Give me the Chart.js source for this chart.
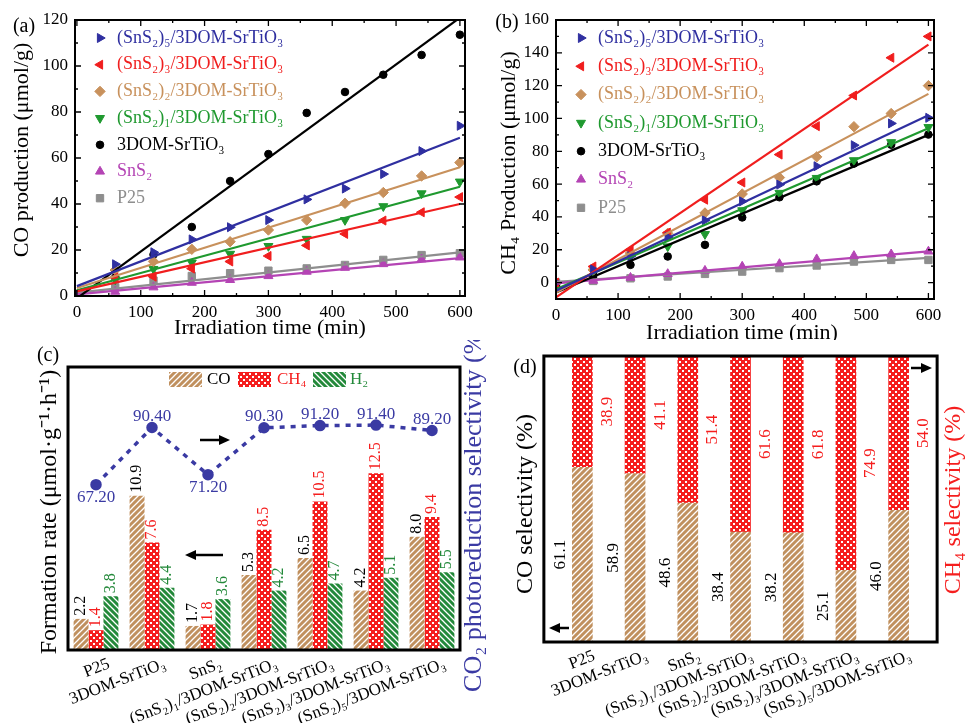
<!DOCTYPE html>
<html>
<head>
<meta charset="utf-8">
<script src="https://cdn.jsdelivr.net/npm/chart.js@4.4.1/dist/chart.umd.min.js"></script>
<style>
  body { margin: 0; background: #fff; width: 968px; height: 723px; position: relative; overflow: hidden; }
  canvas { position: absolute; }
</style>
</head>
<body>
<canvas id="ca" style="left:0;top:0" width="484" height="340"></canvas>
<canvas id="cb" style="left:484px;top:0" width="484" height="340"></canvas>
<canvas id="cc" style="left:0;top:340px" width="495" height="383"></canvas>
<canvas id="cd" style="left:484px;top:340px" width="484" height="383"></canvas>
<script>
// ---- data ----
const times = [0, 60, 120, 180, 240, 300, 360, 420, 480, 540, 600];
const timeTicks = [0, 100, 200, 300, 400, 500, 600];
const coTicks = [0, 20, 40, 60, 80, 100, 120];
const ch4Ticks = [0, 20, 40, 60, 80, 100, 120, 140, 160];
const sampleNames = ['(SnS₂)₅/3DOM-SrTiO₃', '(SnS₂)₃/3DOM-SrTiO₃', '(SnS₂)₂/3DOM-SrTiO₃', '(SnS₂)₁/3DOM-SrTiO₃', '3DOM-SrTiO₃', 'SnS₂', 'P25'];

// (a) CO production, µmol/g
const coS5 = [1, 13.8, 19, 24.6, 29.9, 33, 42, 46.7, 53, 63, 74];
const coS3 = [0, 8, 8.4, 11.9, 15, 17.4, 22, 27, 32.8, 36.4, 43];
const coS2 = [0.5, 11.3, 15, 20.3, 23.6, 28.7, 33, 40.3, 45, 52.2, 58];
const coS1 = [0, 7.2, 11.7, 14.5, 18.3, 21.7, 24.8, 33, 39, 44.6, 49.7];
const coDOM = [0, 8, 18, 30, 50, 61.7, 79.6, 88.7, 96.2, 104.8, 113.6];
const coSnS2 = [0, 1.9, 3.8, 5.8, 7, 8.7, 10.6, 12.3, 13.9, 16, 16.8];
const coP25 = [0, 3.8, 6.7, 8.7, 9.9, 11, 12, 13.5, 15.7, 17.8, 18.6];
// fitted lines: value at 0 min and at 600 min
const coFit0 = [4.3, 2, 3.5, 2.5, -1, 0.7, 1.5];
const coFit600 = [68.8, 40, 56, 47.5, 121, 16.5, 19];

// (b) CH4 production, µmol/g
const chS5 = [0, 8, 16, 27.7, 38, 49.5, 59.7, 70.9, 83.7, 97, 100.4];
const chS3 = [0, 9.8, 20, 30.5, 50.5, 61, 78, 95.3, 114, 137, 150];
const chS2 = [0, 7.7, 18, 30, 42.4, 54, 64, 76.6, 95, 103, 120];
const chS1 = [-1, 6.7, 16, 22, 29.5, 44, 54.6, 63.7, 74.5, 85.5, 94.7];
const chDOM = [-1, 4.3, 10.8, 15.9, 23, 39.7, 52, 61.7, 72.5, 84, 90.2];
const chSnS2 = [-1, 1.2, 3, 5.3, 7.3, 9.8, 11.4, 14.3, 16.3, 17.3, 19];
const chP25 = [0, 1, 2.6, 3.7, 5.3, 6.7, 8.8, 10.4, 12.8, 13.8, 13.8];
const chFit0 = [-5, -9, -6, -4, -6, -0.5, 0.5];
const chFit600 = [102, 145, 115, 94, 90, 19, 15];

// (c) formation rates and CO2 photoreduction selectivity
const catNames = ['P25', '3DOM-SrTiO₃', 'SnS₂', '(SnS₂)₁/3DOM-SrTiO₃', '(SnS₂)₂/3DOM-SrTiO₃', '(SnS₂)₃/3DOM-SrTiO₃', '(SnS₂)₅/3DOM-SrTiO₃'];
const rateCO = [2.2, 10.9, 1.7, 5.3, 6.5, 4.2, 8.0];
const rateCH4 = [1.4, 7.6, 1.8, 8.5, 10.5, 12.5, 9.4];
const rateH2 = [3.8, 4.4, 3.6, 4.2, 4.7, 5.1, 5.5];
const co2Sel = [67.2, 90.4, 71.2, 90.3, 91.2, 91.4, 89.2];

// (d) CO / CH4 selectivity, %
const selCO = [61.1, 58.9, 48.6, 38.4, 38.2, 25.1, 46.0];
const selCH4 = [38.9, 41.1, 51.4, 61.6, 61.8, 74.9, 54.0];

// ---- styles ----
const FONT = '"Liberation Serif", "Times New Roman", serif';
Chart.defaults.font.family = FONT;
Chart.defaults.color = '#000';

const seriesColors = ['#2f2fa0', '#f01e1e', '#c8915c', '#1f992f', '#000000', '#b444b4', '#8e8e8e'];
const seriesStyles = [['triangle', 90], ['triangle', -90], ['rectRot', 0], ['triangle', 180], ['circle', 0], ['triangle', 0], ['rect', 0]];
const TAN = '#c0905e', RED = '#f51e1e', GREEN = '#23893a', BLUE = '#3a3aa3';

function stripes(bg, slash) {
  const c = document.createElement('canvas');
  c.width = c.height = 6;
  const g = c.getContext('2d');
  g.fillStyle = bg;
  g.fillRect(0, 0, 6, 6);
  g.strokeStyle = '#fff';
  g.lineWidth = 1.3;
  g.beginPath();
  if (slash) {
    g.moveTo(-1, 7); g.lineTo(7, -1);
    g.moveTo(-1, 1); g.lineTo(1, -1);
    g.moveTo(5, 7); g.lineTo(7, 5);
  } else {
    g.moveTo(-1, -1); g.lineTo(7, 7);
    g.moveTo(5, -1); g.lineTo(7, 1);
    g.moveTo(-1, 5); g.lineTo(1, 7);
  }
  g.stroke();
  return g.createPattern(c, 'repeat');
}
function dots(bg) {
  const c = document.createElement('canvas');
  c.width = c.height = 6;
  const g = c.getContext('2d');
  g.fillStyle = bg;
  g.fillRect(0, 0, 6, 6);
  g.fillStyle = '#fff';
  g.fillRect(0, 0, 2, 2);
  g.fillRect(3, 3, 2, 2);
  return g.createPattern(c, 'repeat');
}
const patCO = stripes(TAN, true);
const patCH4 = dots(RED);
const patH2 = stripes(GREEN, false);

// ---- small plugins ----
function textsPlugin(items) {
  return {
    id: 'texts',
    afterDraw(chart) {
      const ctx = chart.ctx;
      items.forEach(it => {
        ctx.save();
        ctx.translate(it.x, it.y);
        if (it.rot) ctx.rotate(it.rot * Math.PI / 180);
        ctx.font = (it.size || 20) + 'px ' + FONT;
        ctx.fillStyle = it.color || '#000';
        ctx.textAlign = it.align || 'center';
        ctx.textBaseline = 'middle';
        ctx.fillText(it.t, 0, 0);
        ctx.restore();
      });
    }
  };
}

// box round the plot. For the category panels, catPad gives how far (in
// categories) the box reaches past the first and last bar centre.
function framePlugin(width, withTicks, catPad) {
  return {
    id: 'frame',
    afterDraw(chart) {
      const { ctx, chartArea: a } = chart;
      let left = a.left, right = a.right;
      if (catPad) {
        const s = chart.scales.x;
        const n = chart.data.labels.length;
        const p0 = s.getPixelForTick(0), p1 = s.getPixelForTick(n - 1);
        const step = (p1 - p0) / (n - 1);
        left = p0 - catPad * step;
        right = p1 + catPad * step;
      }
      ctx.save();
      ctx.strokeStyle = '#000';
      ctx.lineWidth = width;
      ctx.strokeRect(left, a.top, right - left, a.bottom - a.top);
      if (withTicks) {
        ctx.lineWidth = 1.3;
        ctx.beginPath();
        ['x', 'y'].forEach(id => {
          const s = chart.scales[id];
          const vals = s.ticks.map(t => t.value);
          const step = vals[1] - vals[0];
          const marks = [];
          vals.forEach(v => {
            marks.push([v, 6]);
            if (v + step / 2 < s.max) marks.push([v + step / 2, 3]);
          });
          marks.forEach(([v, len]) => {
            const p = s.getPixelForValue(v);
            if (id === 'x') {
              ctx.moveTo(p, a.bottom); ctx.lineTo(p, a.bottom - len);
              ctx.moveTo(p, a.top); ctx.lineTo(p, a.top + len);
            } else {
              ctx.moveTo(a.left, p); ctx.lineTo(a.left + len, p);
              ctx.moveTo(a.right, p); ctx.lineTo(a.right - len, p);
            }
          });
        });
        ctx.stroke();
      }
      ctx.restore();
    }
  };
}

function arrowsPlugin(list) {
  return {
    id: 'arrows',
    afterDraw(chart) {
      const ctx = chart.ctx;
      ctx.save();
      ctx.strokeStyle = '#000';
      ctx.fillStyle = '#000';
      ctx.lineWidth = 2.5;
      list.forEach(([x1, y, x2]) => {
        const d = x2 > x1 ? 1 : -1;
        ctx.beginPath();
        ctx.moveTo(x1, y); ctx.lineTo(x2 - d * 8, y);
        ctx.stroke();
        ctx.beginPath();
        ctx.moveTo(x2, y); ctx.lineTo(x2 - d * 11, y - 5); ctx.lineTo(x2 - d * 11, y + 5);
        ctx.closePath();
        ctx.fill();
      });
      ctx.restore();
    }
  };
}

function insideLegend(x, y, dy, textX, size) {
  return {
    id: 'insideLegend',
    afterDraw(chart) {
      const ctx = chart.ctx;
      ctx.save();
      ctx.font = size + 'px ' + FONT;
      ctx.textBaseline = 'middle';
      let row = 0;
      chart.data.datasets.forEach(ds => {
        if (!ds.label) return;
        const yy = y + row * dy;
        ctx.fillStyle = ds.backgroundColor;
        ctx.strokeStyle = ds.backgroundColor;
        Chart.helpers.drawPoint(ctx, { pointStyle: ds.pointStyle, rotation: ds.pointRotation, radius: ds.pointRadius, borderWidth: 1 }, x, yy);
        ctx.fillText(ds.label, textX, yy);
        row++;
      });
      ctx.restore();
    }
  };
}

function growthSets(series, fit0, fit600) {
  const fits = series.map((vals, k) => ({
    data: [{ x: times[0], y: fit0[k] }, { x: times[times.length - 1], y: fit600[k] }],
    borderColor: seriesColors[k], borderWidth: 2.2, pointRadius: 0, showLine: true
  }));
  const pts = series.map((vals, k) => ({
    label: sampleNames[k],
    data: times.map((t, i) => ({ x: t, y: vals[i] })),
    backgroundColor: seriesColors[k], borderColor: seriesColors[k],
    pointStyle: seriesStyles[k][0], pointRotation: seriesStyles[k][1],
    pointRadius: seriesStyles[k][0] === 'circle' ? 3.8 : 5.2, pointBorderWidth: 1, showLine: false
  }));
  return fits.concat(pts);
}

function growthChart(id, sets, cfg) {
  return new Chart(document.getElementById(id), {
    type: 'scatter',
    data: { datasets: sets },
    options: {
      responsive: false, animation: false,
      layout: { padding: { left: 0, top: 20, right: cfg.padRight, bottom: 0 } },
      plugins: { legend: { display: false }, tooltip: { enabled: false } },
      scales: {
        x: {
          min: cfg.xMin, max: cfg.xMax,
          grid: { display: false, drawTicks: false }, border: { display: false },
          ticks: { font: { size: 17 }, padding: 6, color: '#000' },
          afterBuildTicks: s => { s.ticks = timeTicks.map(v => ({ value: v })); },
          afterFit: s => { s.height = cfg.xHeight; }
        },
        y: {
          min: cfg.yMin, max: cfg.yMax,
          grid: { display: false, drawTicks: false }, border: { display: false },
          ticks: { font: { size: 17 }, padding: 7, color: '#000' },
          afterBuildTicks: s => { s.ticks = cfg.yTicks.map(v => ({ value: v })); },
          afterFit: s => { s.width = cfg.yWidth; }
        }
      }
    },
    plugins: [framePlugin(2, true), insideLegend(cfg.legX, 38, cfg.legDy, cfg.legTextX, cfg.legSize), textsPlugin(cfg.texts)]
  });
}

// (a)
growthChart('ca', growthSets([coS5, coS3, coS2, coS1, coDOM, coSnS2, coP25], coFit0, coFit600), {
  xMin: -3, xMax: 608, yMin: 0, yMax: 120, yTicks: coTicks,
  padRight: 19, xHeight: 44, yWidth: 75,
  legX: 100, legDy: 26.7, legTextX: 117, legSize: 18,
  texts: [
    { t: '(a)', x: 24, y: 27, size: 20 },
    { t: 'CO production (μmol/g)', x: 22, y: 150, rot: -90, size: 22 },
    { t: 'Irradiation time (min)', x: 270, y: 328, size: 22 }
  ]
});

// (b)
growthChart('cb', growthSets([chS5, chS3, chS2, chS1, chDOM, chSnS2, chP25], chFit0, chFit600), {
  xMin: 0, xMax: 609, yMin: -10, yMax: 160, yTicks: ch4Ticks,
  padRight: 34, xHeight: 41, yWidth: 72,
  legX: 97, legDy: 28.3, legTextX: 114, legSize: 18,
  texts: [
    { t: '(b)', x: 23, y: 23, size: 20 },
    { t: 'CH₄ Production (μmol/g)', x: 25, y: 163, rot: -90, size: 22 },
    { t: 'Irradiation time (min)', x: 258, y: 333, size: 22 }
  ]
});

// (c)
const rateColors = ['#000', RED, GREEN];
const selBelow = [true, false, true, false, false, false, false];
const rateLabels = {
  id: 'rateLabels',
  afterDatasetsDraw(chart) {
    const ctx = chart.ctx;
    ctx.save();
    ctx.font = '16px ' + FONT;
    ctx.textBaseline = 'middle';
    for (let i = 0; i < 3; i++) {
      const vals = chart.data.datasets[i].data;
      chart.getDatasetMeta(i).data.forEach((bar, j) => {
        ctx.save();
        ctx.translate(bar.x, bar.y - 3);
        ctx.rotate(-Math.PI / 2);
        ctx.textAlign = 'left';
        ctx.fillStyle = rateColors[i];
        ctx.fillText(vals[j].toFixed(1), 0, 0);
        ctx.restore();
      });
    }
    ctx.font = '17px ' + FONT;
    ctx.textAlign = 'center';
    ctx.fillStyle = BLUE;
    const sel = chart.data.datasets[3].data;
    chart.getDatasetMeta(3).data.forEach((pt, j) => {
      ctx.fillText(sel[j].toFixed(2), pt.x, pt.y + (selBelow[j] ? 13 : -11));
    });
    ctx.restore();
  }
};
const legendC = {
  id: 'legendC',
  afterDraw(chart) {
    const ctx = chart.ctx;
    const items = [[patCO, 'CO', '#000', 169, 207], [patCH4, 'CH₄', RED, 238, 277], [patH2, 'H₂', GREEN, 313, 350]];
    ctx.save();
    ctx.font = '17px ' + FONT;
    ctx.textBaseline = 'middle';
    items.forEach(([pat, txt, col, bx, tx]) => {
      ctx.fillStyle = pat;
      ctx.fillRect(bx, 32, 33, 15);
      ctx.fillStyle = col;
      ctx.fillText(txt, tx, 40);
    });
    ctx.restore();
  }
};

new Chart(document.getElementById('cc'), {
  type: 'bar',
  data: {
    labels: catNames,
    datasets: [
      { label: 'CO', data: rateCO, backgroundColor: patCO, borderWidth: 0, yAxisID: 'y', order: 2 },
      { label: 'CH₄', data: rateCH4, backgroundColor: patCH4, borderWidth: 0, yAxisID: 'y', order: 2 },
      { label: 'H₂', data: rateH2, backgroundColor: patH2, borderWidth: 0, yAxisID: 'y', order: 2 },
      {
        type: 'line', label: 'CO₂ selectivity', data: co2Sel, yAxisID: 'y1', order: 1,
        borderColor: BLUE, borderWidth: 3.5, borderDash: [5, 6], fill: false,
        pointRadius: 4, pointBackgroundColor: BLUE, pointBorderColor: BLUE
      }
    ]
  },
  options: {
    responsive: false, animation: false,
    layout: { padding: { left: 68, top: 27, right: 35, bottom: 0 } },
    datasets: { bar: { categoryPercentage: 0.8, barPercentage: 1 } },
    plugins: { legend: { display: false }, tooltip: { enabled: false } },
    scales: {
      x: {
        grid: { display: false, drawTicks: false }, border: { display: false },
        ticks: { font: { size: 17 }, color: '#000', minRotation: 21, maxRotation: 21, labelOffset: 13, padding: 4, autoSkip: false },
        afterFit: s => { s.height = 73; }
      },
      y: { display: false, min: 0, max: 20 },
      y1: { display: false, position: 'right', min: 0, max: 115 }
    }
  },
  plugins: [framePlugin(3, false, 0.5), rateLabels, legendC,
    arrowsPlugin([[200, 100, 230], [223, 215, 185]]),
    textsPlugin([
      { t: '(c)', x: 48, y: 16, size: 20 },
      { t: 'Formation rate (μmol·g⁻¹·h⁻¹)', x: 50, y: 172, rot: -90, size: 24 },
      { t: 'CO₂ photoreduction selectivity (%)', x: 474, y: 168, rot: -90, size: 26, color: BLUE }
    ])]
});

// (d)
const segLabels = {
  id: 'segLabels',
  afterDatasetsDraw(chart) {
    const ctx = chart.ctx;
    ctx.save();
    ctx.font = '17px ' + FONT;
    ctx.textAlign = 'center';
    ctx.textBaseline = 'middle';
    [[0, -22, '#000'], [1, 25, RED]].forEach(([i, dx, col]) => {
      const vals = chart.data.datasets[i].data;
      chart.getDatasetMeta(i).data.forEach((bar, j) => {
        ctx.save();
        ctx.translate(bar.x + dx, (bar.y + bar.base) / 2);
        ctx.rotate(-Math.PI / 2);
        ctx.fillStyle = col;
        ctx.fillText(vals[j].toFixed(1), 0, 0);
        ctx.restore();
      });
    });
    ctx.restore();
  }
};

new Chart(document.getElementById('cd'), {
  type: 'bar',
  data: {
    labels: catNames,
    datasets: [
      { label: 'CO', data: selCO, backgroundColor: patCO, borderWidth: 0 },
      { label: 'CH₄', data: selCH4, backgroundColor: patCH4, borderWidth: 0 }
    ]
  },
  options: {
    responsive: false, animation: false,
    layout: { padding: { left: 72, top: 16, right: 43, bottom: 0 } },
    datasets: { bar: { barThickness: 20 } },
    plugins: { legend: { display: false }, tooltip: { enabled: false } },
    scales: {
      x: {
        stacked: true,
        grid: { display: false, drawTicks: false }, border: { display: false },
        ticks: { font: { size: 17 }, color: '#000', minRotation: 21, maxRotation: 21, labelOffset: 12, padding: 4, autoSkip: false },
        afterFit: s => { s.height = 81; }
      },
      y: { display: false, stacked: true, min: 0, max: 100 }
    }
  },
  plugins: [framePlugin(3, false, 0.73), segLabels,
    arrowsPlugin([[85, 288, 65], [427, 28, 448]]),
    textsPlugin([
      { t: '(d)', x: 41, y: 28, size: 20 },
      { t: 'CO selectivity (%)', x: 42, y: 164, rot: -90, size: 24 },
      { t: 'CH₄ selectivity (%)', x: 470, y: 160, rot: -90, size: 24, color: RED }
    ])]
});
</script>
</body>
</html>
